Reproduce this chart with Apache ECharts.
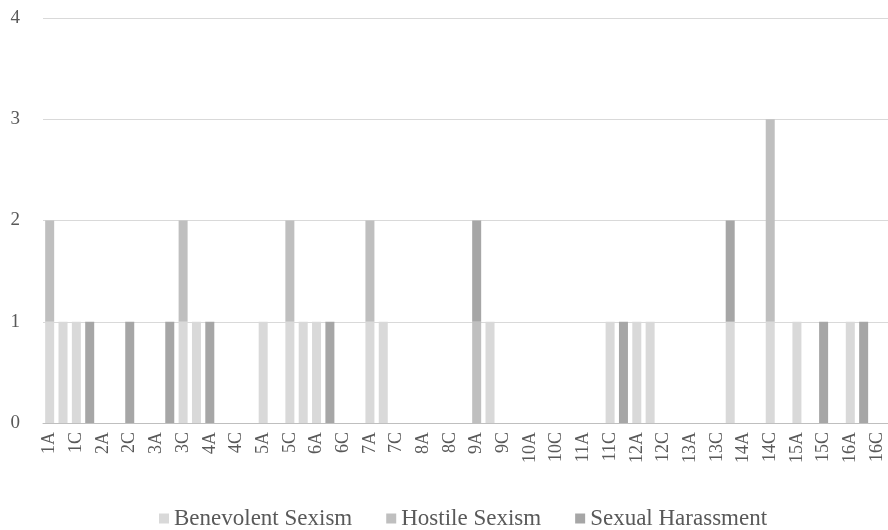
<!DOCTYPE html>
<html>
<head>
<meta charset="utf-8">
<script src="https://cdn.jsdelivr.net/npm/echarts@6/dist/echarts.min.js"></script>
<style>
  html, body { margin: 0; padding: 0; background: #ffffff; overflow: hidden; }
  #wrap { width: 888px; height: 530px; overflow: hidden; }
  /* the plot runs slightly past the right edge of the frame */
  #chart { width: 897px; height: 530px; }
</style>
</head>
<body>
<div id="wrap"><div id="chart"></div></div>
<script>
// Participant/condition codes along the x axis
const categories = [
  '1A','1B','1C','1D','2A','2B','2C','2D','3A','3B','3C','3D','4A','4B','4C','4D',
  '5A','5B','5C','5D','6A','6B','6C','6D','7A','7B','7C','7D','8A','8B','8C','8D',
  '9A','9B','9C','9D','10A','10B','10C','10D','11A','11B','11C','11D','12A','12B','12C','12D',
  '13A','13B','13C','13D','14A','14B','14C','14D','15A','15B','15C','15D','16A','16B','16C','16D'
];

// Counts per category
const benevolentSexism = [
  1,1,1,0, 0,0,0,0, 0,0,1,1, 0,0,0,0,
  1,0,1,1, 1,0,0,0, 1,1,0,0, 0,0,0,0,
  0,1,0,0, 0,0,0,0, 0,0,1,0, 1,1,0,0,
  0,0,0,1, 0,0,1,0, 1,0,0,0, 1,0,0,0
];
const hostileSexism = [
  1,0,0,0, 0,0,0,0, 0,0,1,0, 0,0,0,0,
  0,0,1,0, 0,0,0,0, 1,0,0,0, 0,0,0,0,
  1,0,0,0, 0,0,0,0, 0,0,0,0, 0,0,0,0,
  0,0,0,0, 0,0,2,0, 0,0,0,0, 0,0,0,0
];
const sexualHarassment = [
  0,0,0,1, 0,0,1,0, 0,1,0,0, 1,0,0,0,
  0,0,0,0, 0,1,0,0, 0,0,0,0, 0,0,0,0,
  1,0,0,0, 0,0,0,0, 0,0,0,1, 0,0,0,0,
  0,0,0,1, 0,0,0,0, 0,0,1,0, 0,1,0,0
];

const yTicks = [0, 1, 2, 3, 4];

const serif = '"Liberation Serif", "DejaVu Serif", serif';
const textGray = '#595959';

const chart = echarts.init(document.getElementById('chart'), null, { renderer: 'canvas' });

function barSeries(name, data, color) {
  return {
    name: name,
    type: 'bar',
    stack: 'total',
    data: data,
    barWidth: 9,
    itemStyle: { color: color },
    emphasis: { disabled: true }
  };
}

chart.setOption({
  animation: false,
  backgroundColor: '#ffffff',
  grid: { left: 43, right: 0, top: 18, bottom: 107, containLabel: false },
  legend: {
    left: 154,
    top: 502,
    icon: 'rect',
    itemWidth: 10,
    itemHeight: 10,
    itemGap: 34,
    textStyle: { fontFamily: serif, fontSize: 23, color: textGray },
    data: ['Benevolent Sexism', 'Hostile Sexism', 'Sexual Harassment']
  },
  xAxis: {
    type: 'category',
    data: categories,
    axisLine: { lineStyle: { color: '#bfbfbf', width: 1 } },
    axisTick: { show: false },
    axisLabel: {
      interval: 1,
      rotate: 90,
      margin: 9,
      fontFamily: serif,
      fontSize: 18,
      color: textGray
    }
  },
  yAxis: {
    type: 'value',
    min: yTicks[0],
    max: yTicks[yTicks.length - 1],
    interval: 1,
    axisLine: { show: false },
    axisTick: { show: false },
    axisLabel: { margin: 23, fontFamily: serif, fontSize: 19, color: textGray },
    splitLine: { lineStyle: { color: '#d9d9d9', width: 1 } }
  },
  series: [
    barSeries('Benevolent Sexism', benevolentSexism, '#d9d9d9'),
    barSeries('Hostile Sexism', hostileSexism, '#bfbfbf'),
    barSeries('Sexual Harassment', sexualHarassment, '#a6a6a6')
  ]
});
</script>
</body>
</html>
